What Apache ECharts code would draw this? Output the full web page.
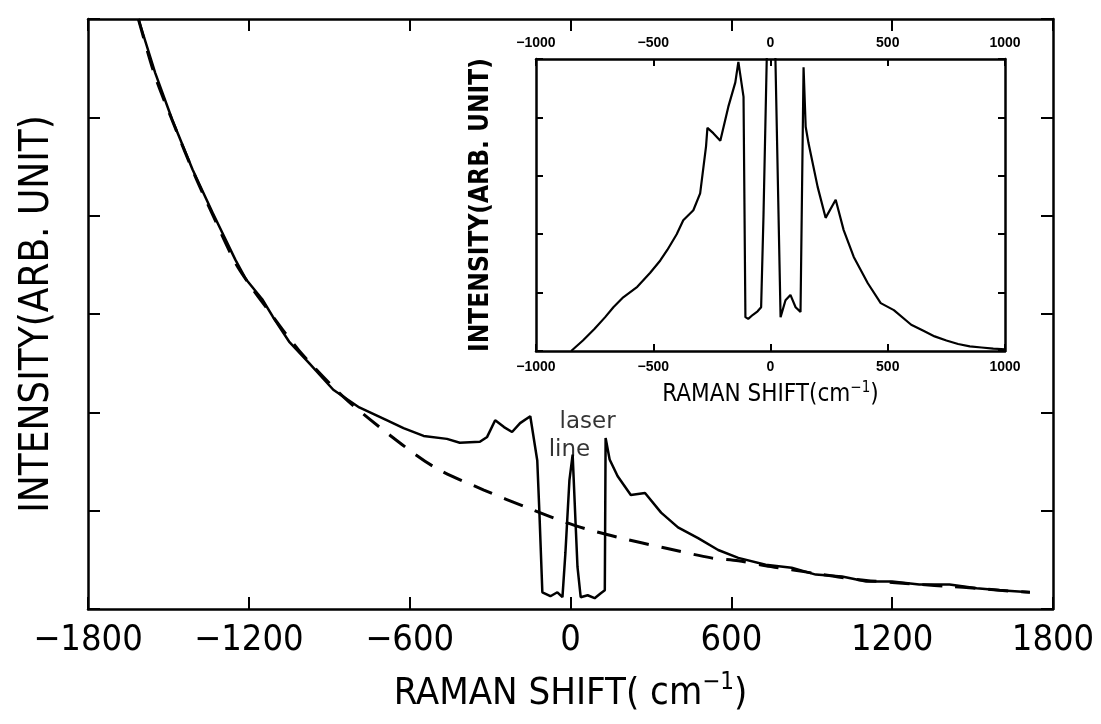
<!DOCTYPE html>
<html>
<head>
<meta charset="utf-8">
<script src="https://cdn.jsdelivr.net/npm/echarts@6/dist/echarts.min.js"></script>
<style>
html, body { margin: 0; padding: 0; background: #fff; }
#chart { width: 1101px; height: 724px; }
</style>
</head>
<body>
<div id="chart"></div>
<script>
// measured spectrum, main panel (solid line)
const shift = [-1612, -1549, -1485, -1410, -1335, -1250, -1210, -1150, -1110, -1050, -975, -885, -788, -686, -623, -548, -461, -413, -338, -311, -281, -248, -218, -188, -150, -124, -116, -105, -75, -49, -30, -19, -4, 8, 19, 26, 38, 64, 90, 113, 128, 131, 146, 176, 225, 278, 338, 401, 476, 551, 626, 728, 825, 915, 1013, 1103, 1200, 1301, 1414, 1515, 1601, 1714];
const intensity = [6.0, 5.45, 4.97, 4.47, 4.03, 3.55, 3.35, 3.15, 2.97, 2.72, 2.50, 2.23, 2.05, 1.92, 1.84, 1.76, 1.73, 1.69, 1.70, 1.75, 1.92, 1.85, 1.80, 1.89, 1.96, 1.51, 0.98, 0.17, 0.13, 0.17, 0.12, 0.57, 1.31, 1.57, 0.87, 0.43, 0.12, 0.14, 0.11, 0.16, 0.19, 1.74, 1.52, 1.35, 1.16, 1.18, 0.98, 0.83, 0.72, 0.60, 0.52, 0.45, 0.42, 0.35, 0.33, 0.28, 0.28, 0.25, 0.25, 0.21, 0.19, 0.17];

// background fit (dashed line)
const bgShift = [-1612, -1550, -1480, -1400, -1330, -1250, -1190, -1136, -1013, -848, -675, -506, -323, -161, 15, 176, 353, 525, 626, 728, 825, 915, 1013, 1103, 1200, 1301, 1414, 1515, 1601, 1714];
const bgIntensity = [6.0, 5.42, 4.93, 4.40, 3.98, 3.52, 3.27, 3.07, 2.63, 2.16, 1.77, 1.44, 1.21, 1.03, 0.85, 0.73, 0.62, 0.52, 0.49, 0.44, 0.40, 0.36, 0.32, 0.29, 0.27, 0.25, 0.23, 0.21, 0.19, 0.17];

// inset: spectrum with background removed
const insetShift = [-850, -800, -750, -705, -670, -628, -568, -513, -470, -440, -400, -372, -329, -300, -275, -269, -244, -214, -180, -150, -137, -115, -107, -95, -75, -55, -40, -30, -15, 20, 43, 64, 85, 107, 128, 141, 150, 162, 201, 235, 278, 312, 355, 415, 470, 526, 600, 650, 700, 750, 800, 850, 900, 950, 1000];
const insetIntensity = [0.0, 0.18, 0.38, 0.58, 0.75, 0.92, 1.10, 1.34, 1.55, 1.73, 2.0, 2.24, 2.41, 2.7, 3.5, 3.82, 3.73, 3.60, 4.18, 4.6, 4.95, 4.35, 0.58, 0.55, 0.62, 0.68, 0.75, 2.3, 5.2, 5.2, 0.58, 0.87, 0.96, 0.75, 0.67, 4.86, 3.84, 3.56, 2.81, 2.28, 2.59, 2.07, 1.61, 1.16, 0.82, 0.70, 0.45, 0.35, 0.25, 0.18, 0.12, 0.08, 0.06, 0.04, 0.03];

// axis ranges
const mainTicks = [-1800, -1200, -600, 0, 600, 1200, 1800];
const insetTicks = [-1000, -500, 0, 500, 1000];

// text next to the laser line
const noteText = ['laser', 'line'];
const noteShift = [64, -4];
const noteIntensity = [1.90, 1.62];

const narrow = "'Liberation Sans Narrow', 'DejaVu Sans Condensed', sans-serif";
const minus = v => (v < 0 ? '\u2212' + (-v) : String(v));
const zip = (xs, ys) => xs.map((x, i) => [x, ys[i]]);

const frame = { show: true, onZero: false, lineStyle: { color: '#000', width: 2.5 } };
const tick = len => ({ show: true, inside: true, length: len, lineStyle: { color: '#000', width: 2 } });

const chart = echarts.init(document.getElementById('chart'));
chart.setOption({
    animation: false,
    backgroundColor: '#fff',
    grid: [
        { left: 88, right: 48, top: 19, height: 590 },
        { left: 536, top: 59, width: 469, height: 292 }
    ],
    xAxis: [
        {
            gridIndex: 0, type: 'value', position: 'bottom',
            min: mainTicks[0], max: mainTicks[mainTicks.length - 1], interval: 600,
            axisLine: frame, axisTick: tick(12), splitLine: { show: false },
            axisLabel: { color: '#000', fontFamily: narrow, fontSize: 36, margin: 14, formatter: minus },
            name: 'RAMAN SHIFT( cm{sup|\u22121})', nameLocation: 'middle', nameGap: 62,
            nameTextStyle: {
                color: '#000', fontFamily: narrow, fontSize: 38,
                rich: { sup: { color: '#000', fontFamily: narrow, fontSize: 24, padding: [0, 0, 22, 0] } }
            }
        },
        {
            gridIndex: 0, type: 'value', position: 'top',
            min: mainTicks[0], max: mainTicks[mainTicks.length - 1], interval: 600,
            axisLine: frame, axisTick: tick(12), axisLabel: { show: false }, splitLine: { show: false }
        },
        {
            gridIndex: 1, type: 'value', position: 'bottom',
            min: insetTicks[0], max: insetTicks[insetTicks.length - 1], interval: 500,
            axisLine: frame, axisTick: tick(7), splitLine: { show: false },
            axisLabel: { color: '#000', fontFamily: 'Liberation Sans', fontWeight: 'bold', fontSize: 14, margin: 9, formatter: minus },
            name: 'RAMAN SHIFT(cm{sup|\u22121})', nameLocation: 'middle', nameGap: 30,
            nameTextStyle: {
                color: '#000', fontFamily: narrow, fontSize: 24,
                rich: { sup: { color: '#000', fontFamily: narrow, fontSize: 15, padding: [0, 0, 12, 0] } }
            }
        },
        {
            gridIndex: 1, type: 'value', position: 'top',
            min: insetTicks[0], max: insetTicks[insetTicks.length - 1], interval: 500,
            axisLine: frame, axisTick: tick(7), splitLine: { show: false },
            axisLabel: { color: '#000', fontFamily: 'Liberation Sans', fontWeight: 'bold', fontSize: 14, margin: 9, formatter: minus }
        }
    ],
    yAxis: [
        {
            gridIndex: 0, type: 'value', position: 'left', min: 0, max: 6, interval: 1,
            axisLine: frame, axisTick: tick(12), axisLabel: { show: false }, splitLine: { show: false },
            name: 'INTENSITY(ARB. UNIT)', nameLocation: 'middle', nameGap: 30,
            nameTextStyle: { color: '#000', fontFamily: narrow, fontSize: 40 }
        },
        {
            gridIndex: 0, type: 'value', position: 'right', min: 0, max: 6, interval: 1,
            axisLine: frame, axisTick: tick(12), axisLabel: { show: false }, splitLine: { show: false }
        },
        {
            gridIndex: 1, type: 'value', position: 'left', min: 0, max: 5, interval: 1,
            axisLine: frame, axisTick: tick(7), axisLabel: { show: false }, splitLine: { show: false },
            name: 'INTENSITY(ARB. UNIT)', nameLocation: 'middle', nameGap: 42,
            nameTextStyle: { color: '#000', fontFamily: narrow, fontWeight: 'bold', fontSize: 26 }
        },
        {
            gridIndex: 1, type: 'value', position: 'right', min: 0, max: 5, interval: 1,
            axisLine: frame, axisTick: tick(7), axisLabel: { show: false }, splitLine: { show: false }
        }
    ],
    series: [
        {
            type: 'line', xAxisIndex: 0, yAxisIndex: 0, data: zip(bgShift, bgIntensity),
            smooth: 0.3, showSymbol: false, lineStyle: { color: '#000', width: 3, type: [20, 13] }
        },
        {
            type: 'line', xAxisIndex: 0, yAxisIndex: 0, data: zip(shift, intensity),
            showSymbol: false, lineStyle: { color: '#000', width: 2.5 }
        },
        {
            type: 'line', xAxisIndex: 2, yAxisIndex: 2, data: zip(insetShift, insetIntensity),
            showSymbol: false, clip: true, lineStyle: { color: '#000', width: 2.2 }
        },
        {
            type: 'scatter', xAxisIndex: 0, yAxisIndex: 0, symbolSize: 0, silent: true,
            data: noteText.map((t, i) => ({ name: t, value: [noteShift[i], noteIntensity[i]] })),
            label: {
                show: true, position: 'inside', formatter: p => p.name,
                color: '#000', fontFamily: 'DejaVu Sans', fontSize: 23
            }
        }
    ]
});
</script>
</body>
</html>
